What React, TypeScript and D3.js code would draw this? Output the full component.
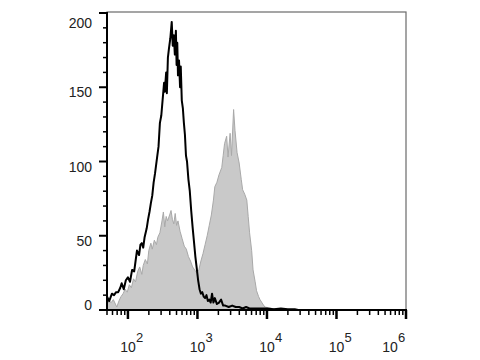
import React from "react";
import * as d3 from "d3";

// Fluorescence intensity given as log10 exponents; counts
const blackLog = [1.70, 1.73, 1.77, 1.80, 1.83, 1.86, 1.89, 1.91, 1.94, 1.97, 2.00, 2.03, 2.06, 2.09, 2.11, 2.13, 2.16, 2.18, 2.20, 2.22, 2.24, 2.27, 2.29, 2.31, 2.33, 2.35, 2.37, 2.39, 2.42, 2.44, 2.46, 2.48, 2.50, 2.52, 2.53, 2.55, 2.56, 2.575, 2.59, 2.61, 2.63, 2.645, 2.66, 2.675, 2.69, 2.70, 2.71, 2.72, 2.735, 2.75, 2.76, 2.775, 2.79, 2.805, 2.82, 2.835, 2.85, 2.87, 2.89, 2.91, 2.93, 2.95, 2.97, 2.99, 3.01, 3.03, 3.05, 3.07, 3.09, 3.11, 3.13, 3.15, 3.17, 3.19, 3.21, 3.23, 3.25, 3.28, 3.31, 3.34, 3.37, 3.40, 3.45, 3.50, 3.55, 3.60, 3.65, 3.70, 3.75, 3.80, 3.90, 4.00, 4.10, 4.20, 4.30, 4.40, 4.45];
const blackCounts = [9, 6, 11, 10, 12, 12, 15, 18, 14, 20, 22, 19, 27, 26, 33, 40, 37, 44, 45, 42, 49, 55, 61, 66, 72, 77, 86, 92, 103, 110, 126, 131, 142, 153, 147, 160, 146, 170, 176, 183, 194, 178, 185, 172, 188, 165, 180, 158, 168, 150, 164, 141, 136, 126, 118, 104, 100, 88, 80, 67, 56, 46, 36, 28, 20, 14, 11, 12, 9, 8, 10, 6, 7, 5, 11, 5, 8, 4, 5, 7, 3, 3, 2, 3, 2, 2, 1, 2, 1, 1, 1, 1, 0.5, 1, 0.5, 0.5, 0];

const grayLog = [1.70, 1.73, 1.76, 1.79, 1.82, 1.84, 1.87, 1.90, 1.93, 1.96, 1.99, 2.02, 2.05, 2.08, 2.11, 2.14, 2.17, 2.20, 2.22, 2.25, 2.28, 2.30, 2.33, 2.35, 2.38, 2.41, 2.43, 2.46, 2.49, 2.51, 2.53, 2.55, 2.57, 2.60, 2.62, 2.64, 2.66, 2.68, 2.70, 2.72, 2.75, 2.78, 2.81, 2.84, 2.87, 2.90, 2.93, 2.96, 2.99, 3.02, 3.05, 3.08, 3.11, 3.14, 3.17, 3.20, 3.23, 3.25, 3.28, 3.31, 3.35, 3.37, 3.39, 3.42, 3.44, 3.47, 3.49, 3.52, 3.54, 3.57, 3.60, 3.63, 3.65, 3.68, 3.71, 3.73, 3.75, 3.78, 3.80, 3.83, 3.85, 3.88, 3.90, 3.94, 3.97, 4.02, 4.08, 4.15, 4.20];
const grayCounts = [4, 6, 5, 7, 4, 2, 6, 9, 11, 14, 12, 17, 15, 21, 19, 26, 29, 24, 30, 34, 31, 40, 45, 41, 47, 44, 49, 52, 60, 66, 56, 63, 60, 64, 67, 61, 58, 65, 57, 60, 53, 48, 43, 41, 36, 33, 29, 27, 25, 27, 33, 38, 44, 50, 57, 64, 74, 83, 86, 91, 96, 104, 112, 117, 103, 119, 104, 135, 121, 106, 99, 88, 81, 78, 74, 63, 52, 40, 27, 19, 13, 9, 7, 4, 2, 1.5, 1, 0.5, 0];

const yTicks = [0, 50, 100, 150, 200];
const decades = [2, 3, 4, 5, 6];

const W = 480, H = 360;
const L = 107, R = 406, T = 13, B = 310;
const FONT = "'Liberation Sans', Arial, sans-serif";

export default function App() {
  const x = d3.scaleLinear().domain([Math.log10(50), 6]).range([L, R]);
  const y = d3.scaleLinear().domain([0, 200]).range([B, T]);

  const blackData = blackLog.map((l, i) => [l, blackCounts[i]] as [number, number]);
  const grayData = grayLog.map((l, i) => [l, grayCounts[i]] as [number, number]);

  const area = d3.area<[number, number]>().x(d => x(d[0])).y0(B).y1(d => y(d[1]));
  const line = d3.line<[number, number]>().x(d => x(d[0])).y(d => y(d[1]));

  const minorX: number[] = [];
  for (let d = 1; d <= 5; d++) {
    for (let m = 2; m <= 9; m++) {
      const v = Math.log10(m) + d;
      if (v >= x.domain()[0] && v <= 6) minorX.push(v);
    }
  }
  const minorY = d3.range(0, 201, 10).filter(v => v % 50 !== 0);

  return (
    <svg width={W} height={H} style={{ position: "absolute", left: 0, top: 0, background: "#fff" }}>
      <path d={area(grayData) || ""} fill="#c9c9c9" stroke="#a9a9a9" strokeWidth={1} />
      <path d={line(blackData) || ""} fill="none" stroke="#000" strokeWidth={2} strokeLinejoin="round" />
      <rect x={L} y={12} width={R - L} height={B - 12} fill="none" stroke="#6a6a6a" strokeWidth={1.2} />
      <line x1={L} x2={L} y1={12} y2={B + 1} stroke="#000" strokeWidth={2} />
      <line x1={L - 1} x2={R + 1} y1={B} y2={B} stroke="#000" strokeWidth={2} />
      {yTicks.map(t => (
        <g key={"yt" + t}>
          <line x1={L - 8} x2={L} y1={y(t)} y2={y(t)} stroke="#000" strokeWidth={2} />
          <text x={92} y={Math.min(Math.max(y(t) + 5, 23), 305)} dominantBaseline="central" textAnchor="end"
            fontFamily={FONT} fontSize={14} fill="#222">{t}</text>
        </g>
      ))}
      {minorY.map(t => (
        <line key={"ym" + t} x1={L - 4} x2={L} y1={y(t)} y2={y(t)} stroke="#000" strokeWidth={1.5} />
      ))}
      {decades.map(d => (
        <g key={"xt" + d}>
          <line x1={x(d)} x2={x(d)} y1={B} y2={B + 9} stroke="#000" strokeWidth={2.5} />
          <text x={Math.min(x(d), 390)} y={352} textAnchor="middle" fontFamily={FONT} fontSize={14} fill="#222">10</text>
          <text x={Math.min(x(d), 390) + 8} y={342} textAnchor="start" fontFamily={FONT} fontSize={13} fill="#222">{d}</text>
        </g>
      ))}
      {minorX.map((v, i) => (
        <line key={"xm" + i} x1={x(v)} x2={x(v)} y1={B} y2={B + 5} stroke="#000" strokeWidth={1.5} />
      ))}
    </svg>
  );
}
